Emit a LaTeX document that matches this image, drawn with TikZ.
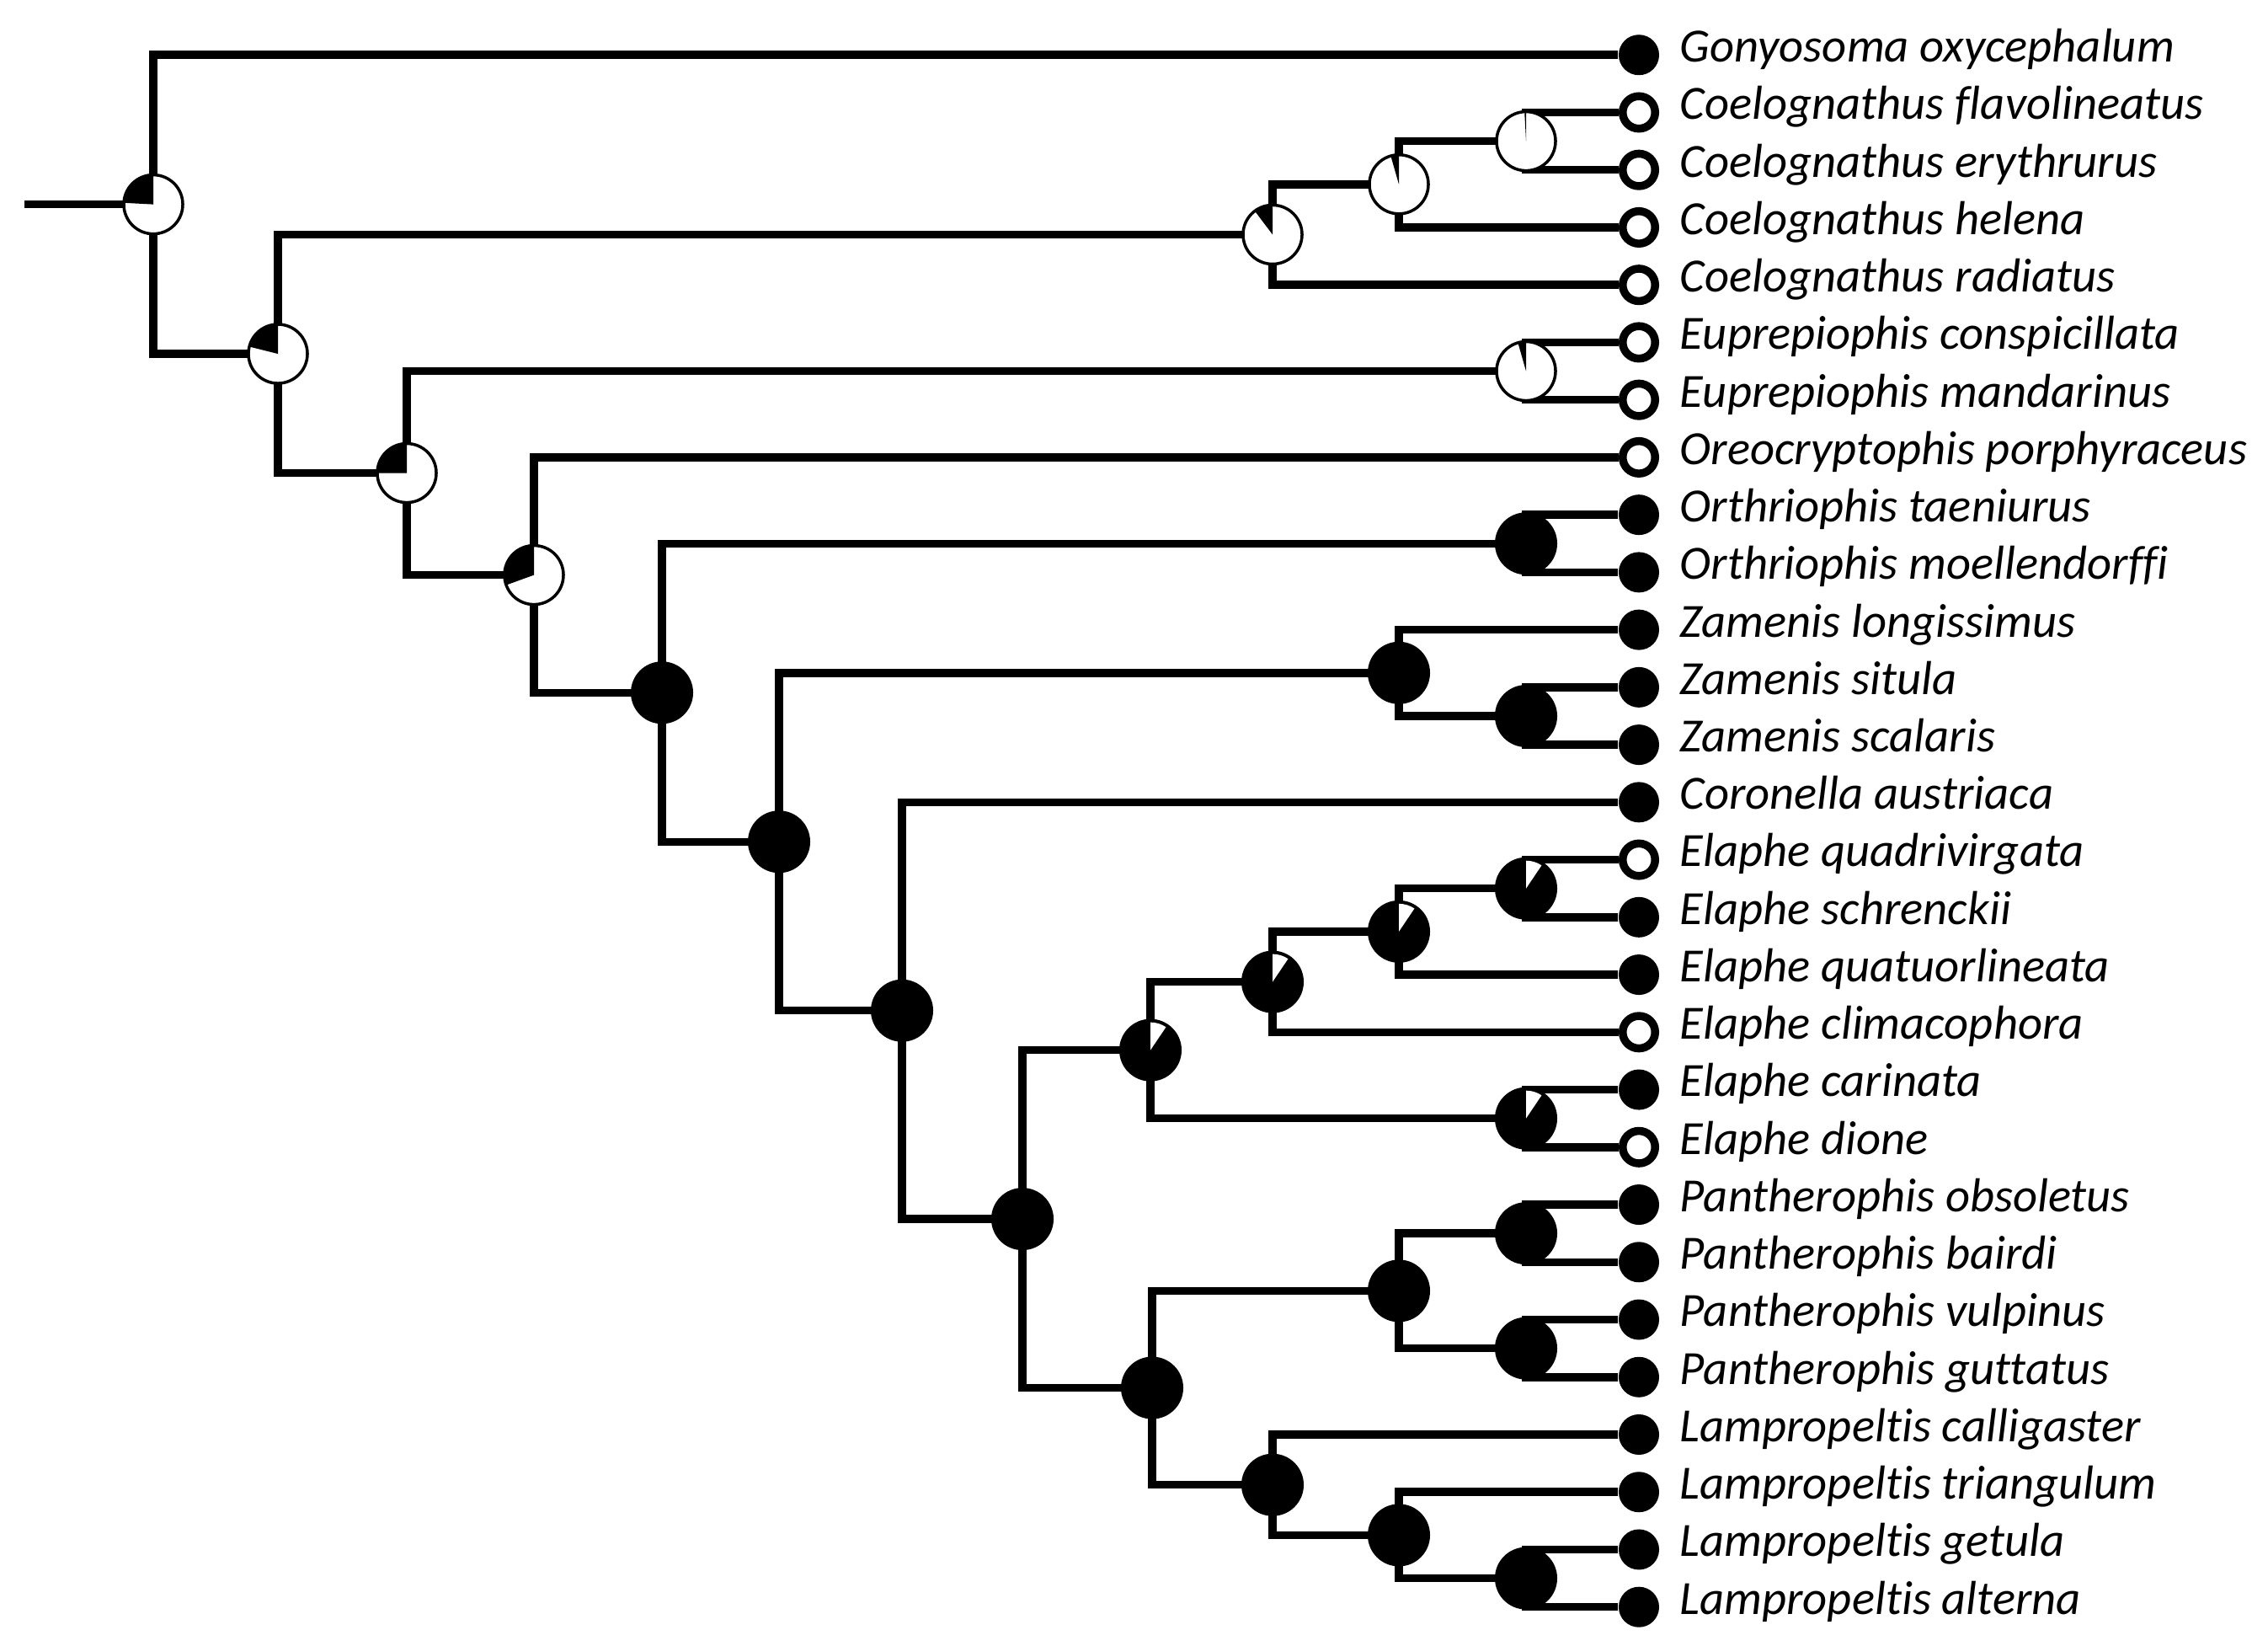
\documentclass[tikz,border=0pt]{standalone}
\usepackage{fontspec}
\setmainfont{Carlito}[Ligatures=CommonOff]
\usepackage{tikz}
\usetikzlibrary{backgrounds}

\newcommand{\pieoff}[2]{%
  \fill[white] (#1) circle (0.35cm);
  \fill (#1) -- ++(90:0.35cm) arc (90:#2:0.35cm) -- cycle;
  \draw[line width=0.035cm] (#1) circle (0.35cm);}
\newcommand{\pieon}[2]{%
  \fill (#1) circle (0.37cm);
  \fill[white] (#1) -- ++(#2:0.33cm) arc (#2:90:0.33cm) -- cycle;}
\newcommand{\piefull}[1]{\fill (#1) circle (0.37cm);}

\begin{document}
\begin{tikzpicture}[x=0.01cm,y=-0.682cm,
    branch/.style={line width=0.095cm},
    tipon/.style={circle,fill=black,inner sep=0pt,minimum size=0.48cm},
    tipoff/.style={circle,draw,fill=white,line width=0.095cm,inner sep=0pt,minimum size=0.385cm},
    taxon/.style={anchor=mid west,inner sep=0pt,font=\fontsize{16.1}{19}\selectfont\itshape}]
          \useasboundingbox (0,-0.956) rectangle (2693,27.665);

          \foreach \st/\name [count=\i from 0] in {on/Gonyosoma oxycephalum, off/Coelognathus flavolineatus,
              off/Coelognathus erythrurus, off/Coelognathus helena, off/Coelognathus radiatus,
              off/Euprepiophis conspicillata, off/Euprepiophis mandarinus, off/Oreocryptophis porphyraceus,
              on/Orthriophis taeniurus, on/Orthriophis moellendorffi, on/Zamenis longissimus,
              on/Zamenis situla, on/Zamenis scalaris, on/Coronella austriaca, off/Elaphe quadrivirgata,
              on/Elaphe schrenckii, on/Elaphe quatuorlineata, off/Elaphe climacophora, on/Elaphe carinata,
              off/Elaphe dione, on/Pantherophis obsoletus, on/Pantherophis bairdi, on/Pantherophis vulpinus,
              on/Pantherophis guttatus, on/Lampropeltis calligaster, on/Lampropeltis triangulum,
              on/Lampropeltis getula, on/Lampropeltis alterna}
          {
            \node[tip\st] (t\i) at (1946,\i) {};
            \node[taxon] (l\i) at (1994,\i) {\name};
          }

          \coordinate (root) at (29,2.5996);
          \coordinate (anc1) at (182,2.5996);
          \coordinate (anc2) at (330,5.1992);
          \coordinate (anc3) at (483,7.2734);
          \coordinate (anc4) at (634,9.0469);
          \coordinate (anc5) at (786,11.0938);
          \coordinate (anc6) at (925,13.6875);
          \coordinate (anc7) at (1071,16.625);
          \coordinate (anc8) at (1214,20.25);
          \coordinate (coel1) at (1511,3.125);
          \coordinate (coel2) at (1661,2.25);
          \coordinate (coel3) at (1812,1.5);
          \coordinate (eupr) at (1812,5.5);
          \coordinate (orth) at (1812,8.5);
          \coordinate (zam1) at (1661,10.75);
          \coordinate (zam2) at (1812,11.5);
          \coordinate (ela1) at (1366,17.3125);
          \coordinate (ela2) at (1511,16.125);
          \coordinate (ela3) at (1661,15.25);
          \coordinate (ela4) at (1812,14.5);
          \coordinate (ela5) at (1812,18.5);
          \coordinate (pl) at (1368,23.1875);
          \coordinate (panth1) at (1661,21.5);
          \coordinate (panth2) at (1812,20.5);
          \coordinate (panth3) at (1812,22.5);
          \coordinate (lamp1) at (1511,24.875);
          \coordinate (lamp2) at (1661,25.75);
          \coordinate (lamp3) at (1812,26.5);

          \begin{scope}[on background layer]
            \draw[branch] (root) -- (anc1);
            \foreach \a/\b in {anc1/t0, anc1/anc2, anc2/coel1, anc2/anc3, coel1/coel2, coel1/t4,
                coel2/coel3, coel2/t3, coel3/t1, coel3/t2, anc3/eupr, anc3/anc4, eupr/t5, eupr/t6,
                anc4/t7, anc4/anc5, anc5/orth, anc5/anc6, orth/t8, orth/t9, anc6/zam1, anc6/anc7,
                zam1/t10, zam1/zam2, zam2/t11, zam2/t12, anc7/t13, anc7/anc8, anc8/ela1, anc8/pl,
                ela1/ela2, ela1/ela5, ela2/ela3, ela2/t17, ela3/ela4, ela3/t16, ela4/t14, ela4/t15,
                ela5/t18, ela5/t19, pl/panth1, pl/lamp1, panth1/panth2, panth1/panth3,
                panth2/t20, panth2/t21, panth3/t22, panth3/t23, lamp1/t24, lamp1/lamp2,
                lamp2/t25, lamp2/lamp3, lamp3/t26, lamp3/t27}
              \draw[branch] (\a) |- (\b);
          \end{scope}

          \pieoff{anc1}{177}
          \pieoff{anc2}{166}
          \pieoff{anc3}{180}
          \pieoff{anc4}{200}
          \pieoff{coel1}{127}
          \pieoff{coel2}{106}
          \pieoff{coel3}{93}
          \pieoff{eupr}{106}
          \foreach \n in {anc5,anc6,anc7,anc8,orth,zam1,zam2,pl,panth1,panth2,panth3,lamp1,lamp2,lamp3}
            {\piefull{\n}}
          \foreach \n in {ela1,ela2,ela3,ela4,ela5}
            {\pieon{\n}{56}}
        \end{tikzpicture}
\end{document}
